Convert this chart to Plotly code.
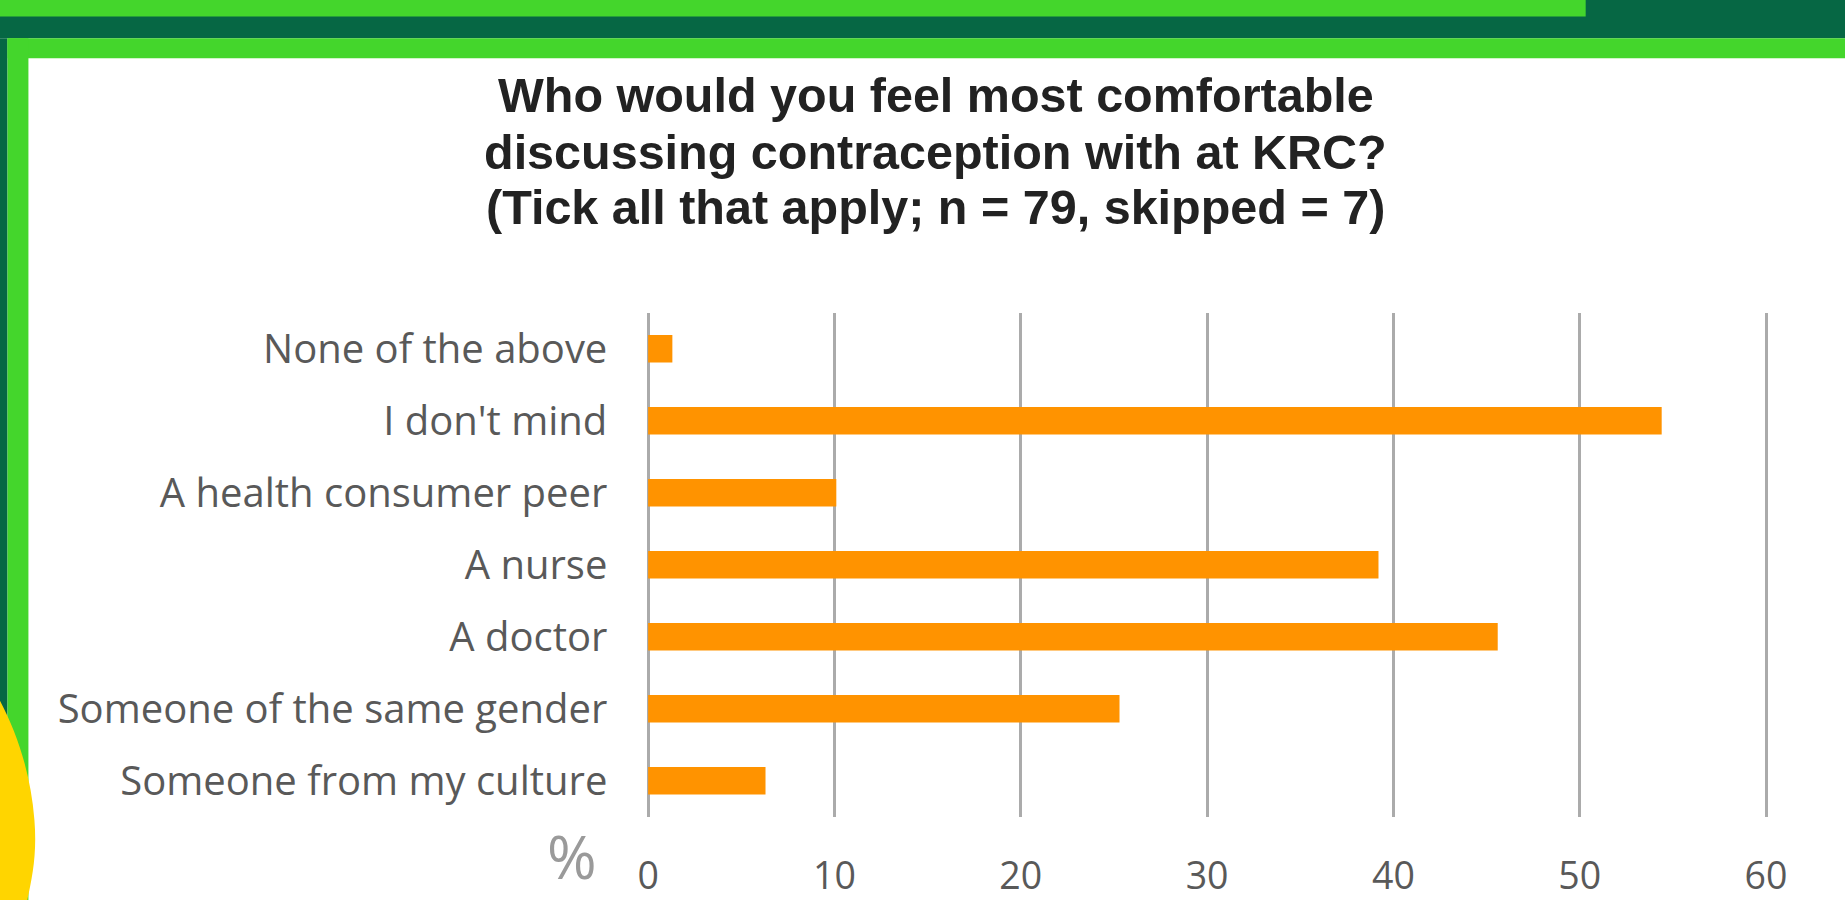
import plotly.graph_objects as go

# Survey responses (percentage of respondents, n = 79)
categories = [
    "None of the above",
    "I don't mind",
    "A health consumer peer",
    "A nurse",
    "A doctor",
    "Someone of the same gender",
    "Someone from my culture",
]
percentages = [1.3, 54.4, 10.1, 39.2, 45.6, 25.3, 6.3]
x_ticks = [0, 10, 20, 30, 40, 50, 60]
title_lines = [
    "Who would you feel most comfortable",
    "discussing contraception with at KRC?",
    "(Tick all that apply; n = 79, skipped = 7)",
]

W, H = 1845, 900
LIGHT_GREEN = "#44D62C"
DARK_GREEN = "#066744"
YELLOW = "#FFD500"
ORANGE = "#FF9300"
LABEL_GREY = "#595959"
GRID_GREY = "#ABABAB"

# Slide layout is specified in slide pixels; these map it onto the figure paper
ORIGIN_X = 4.5
ORIGIN_Y = -1.5
SCALE = 0.989


def px(x):
    return (x - ORIGIN_X) / SCALE / W


def py(y):
    return 1 - (y - ORIGIN_Y) / SCALE / H


fig = go.Figure(
    go.Bar(
        x=percentages,
        y=categories,
        orientation="h",
        marker=dict(color=ORANGE, line=dict(width=0)),
        hoverinfo="skip",
    )
)

# Decorative slide frame (edges run past the paper so they reach the border)
E = 12
shapes = [
    dict(type="rect", x0=px(-E), x1=px(W + E), y0=py(37), y1=py(-E), fillcolor=DARK_GREEN),
    dict(type="rect", x0=px(-E), x1=px(1588), y0=py(15), y1=py(-E), fillcolor=LIGHT_GREEN),
    dict(type="rect", x0=px(-E), x1=px(4), y0=py(H + E), y1=py(37), fillcolor=DARK_GREEN),
    dict(type="rect", x0=px(4), x1=px(W + E), y0=py(57), y1=py(37), fillcolor=LIGHT_GREEN),
    dict(type="rect", x0=px(4), x1=px(25), y0=py(H + E), y1=py(37), fillcolor=LIGHT_GREEN),
]
pts = [(-E, 688), (11, 727), (27, 772), (31, 823), (34, 860), (28, 885), (22, H + E), (-E, H + E)]
path = (
    f"M {px(pts[0][0])},{py(pts[0][1])} "
    f"C {px(pts[1][0])},{py(pts[1][1])} {px(pts[2][0])},{py(pts[2][1])} {px(pts[3][0])},{py(pts[3][1])} "
    f"C {px(pts[4][0])},{py(pts[4][1])} {px(pts[5][0])},{py(pts[5][1])} {px(pts[6][0])},{py(pts[6][1])} "
    f"L {px(pts[7][0])},{py(pts[7][1])} Z"
)
shapes.append(dict(type="path", path=path, fillcolor=YELLOW))
for s in shapes:
    s.update(xref="paper", yref="paper", layer="below", line=dict(width=0))

annotations = []
for line, yc in zip(title_lines, [94.4, 150.9, 206.2]):
    annotations.append(
        dict(
            text=f"<b>{line}</b>",
            x=px(935.5), y=py(yc), xref="paper", yref="paper",
            xanchor="center", yanchor="middle", showarrow=False,
            font=dict(family="Liberation Sans, Arial, sans-serif", size=48.5, color="#222222"),
        )
    )
annotations.append(
    dict(
        text="%", x=px(571), y=-0.016, xref="paper", yref="paper",
        xanchor="center", yanchor="bottom", showarrow=False,
        font=dict(family="Open Sans, sans-serif", size=60, color="#9A9A9A"),
    )
)

# x range padded slightly so the 0 and 60 gridlines are drawn
X0_PX, X60_PX = 647, 1769
unit = (X60_PX - X0_PX) / 60
pad = 0.15

fig.update_layout(
    autosize=True,
    margin=dict(l=0, r=0, t=0, b=0),
    paper_bgcolor="white",
    plot_bgcolor="rgba(0,0,0,0)",
    showlegend=False,
    bargap=0.62,
    shapes=shapes,
    annotations=annotations,
    xaxis=dict(
        domain=[px(X0_PX - pad * unit), px(X60_PX + pad * unit)],
        range=[-pad, 60 + pad],
        tickvals=x_ticks,
        ticktext=[str(v) for v in x_ticks],
        showgrid=True,
        gridcolor=GRID_GREY,
        gridwidth=3,
        zeroline=False,
        showline=False,
        ticks="",
        ticklabelstandoff=34,
        tickfont=dict(family="Open Sans, sans-serif", size=37.5, color=LABEL_GREY),
        fixedrange=True,
    ),
    yaxis=dict(
        domain=[py(820), py(313)],
        type="category",
        categoryorder="array",
        categoryarray=categories,
        autorange="reversed",
        showgrid=False,
        zeroline=False,
        showline=False,
        ticks="",
        ticklabelstandoff=37,
        tickfont=dict(family="Open Sans, sans-serif", size=40, color=LABEL_GREY),
        fixedrange=True,
    ),
)

fig.write_html("out.html", config={"displayModeBar": False})
